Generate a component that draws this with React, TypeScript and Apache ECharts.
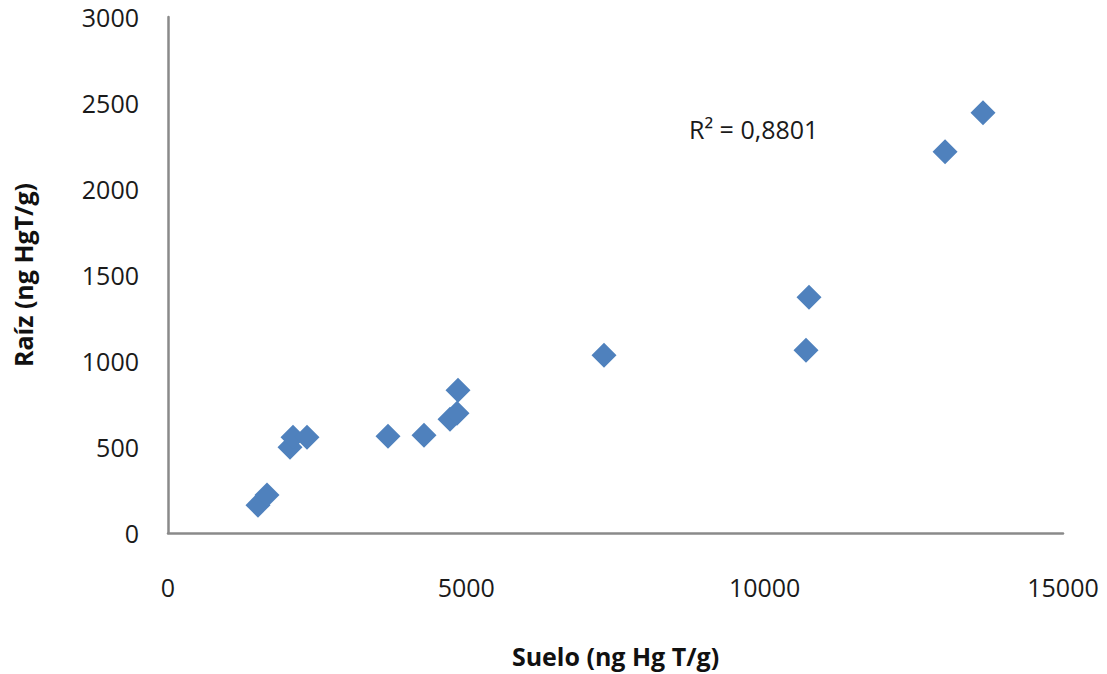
import React, { useEffect, useRef } from "react";
import * as echarts from "echarts";

const sueloValues = [1508, 1659, 2045, 2095, 2330, 3687, 4291, 4726, 4844, 4860, 7307, 10693, 10743, 13023, 13659];
const raizValues = [162, 221, 499, 557, 557, 563, 569, 662, 696, 830, 1033, 1062, 1370, 2217, 2443];
const xTitle = "Suelo (ng Hg T/g)";
const yTitle = "Raíz (ng HgT/g)";
const r2Label = "R² = 0,8801";

export default function App() {
  const ref = useRef<HTMLDivElement>(null);
  useEffect(() => {
    if (!ref.current) return;
    const chart = echarts.init(ref.current, undefined, { renderer: "svg" });
    const data = sueloValues.map((x, i) => [x, raizValues[i]]);
    chart.setOption({
      animation: false,
      backgroundColor: "#ffffff",
      grid: { left: 168, right: 44, top: 17, bottom: 141, outerBoundsMode: "none", containLabel: false },
      xAxis: {
        type: "value",
        min: 0,
        max: 15000,
        interval: 5000,
        name: xTitle,
        nameLocation: "middle",
        nameGap: 110,
        nameTextStyle: { fontFamily: "Open Sans", fontWeight: "bold", fontSize: 25, color: "#111" },
        axisLine: { show: true, lineStyle: { color: "#8a8a8a", width: 2.5 } },
        axisTick: { show: false },
        splitLine: { show: false },
        axisLabel: {
          margin: 41,
          fontFamily: "Open Sans",
          fontSize: 25,
          lineHeight: 26,
          color: "#1a1a1a",
          formatter: (v: number) => String(v),
        },
      },
      yAxis: {
        type: "value",
        min: 0,
        max: 3000,
        interval: 500,
        name: yTitle,
        nameLocation: "middle",
        nameGap: 133,
        nameRotate: 90,
        nameTextStyle: { fontFamily: "Open Sans", fontWeight: "bold", fontSize: 25, color: "#111" },
        axisLine: { show: true, lineStyle: { color: "#8a8a8a", width: 2.5 } },
        axisTick: { show: false },
        splitLine: { show: false },
        axisLabel: {
          margin: 29,
          fontFamily: "Open Sans",
          fontSize: 25,
          lineHeight: 26,
          color: "#1a1a1a",
          formatter: (v: number) => String(v),
        },
      },
      series: [
        {
          type: "scatter",
          symbol: "diamond",
          symbolSize: [25, 25],
          itemStyle: { color: "#4F81BD", opacity: 1 },
          data,
        },
      ],
      graphic: [
        {
          type: "text",
          left: 689,
          top: 116,
          style: { text: r2Label, fontFamily: "Open Sans", fontSize: 25, fill: "#1a1a1a" },
        },
      ],
    });
    return () => chart.dispose();
  }, []);
  return <div ref={ref} style={{ width: 1107, height: 674, margin: "-8px 0 0 -8px" }} />;
}
